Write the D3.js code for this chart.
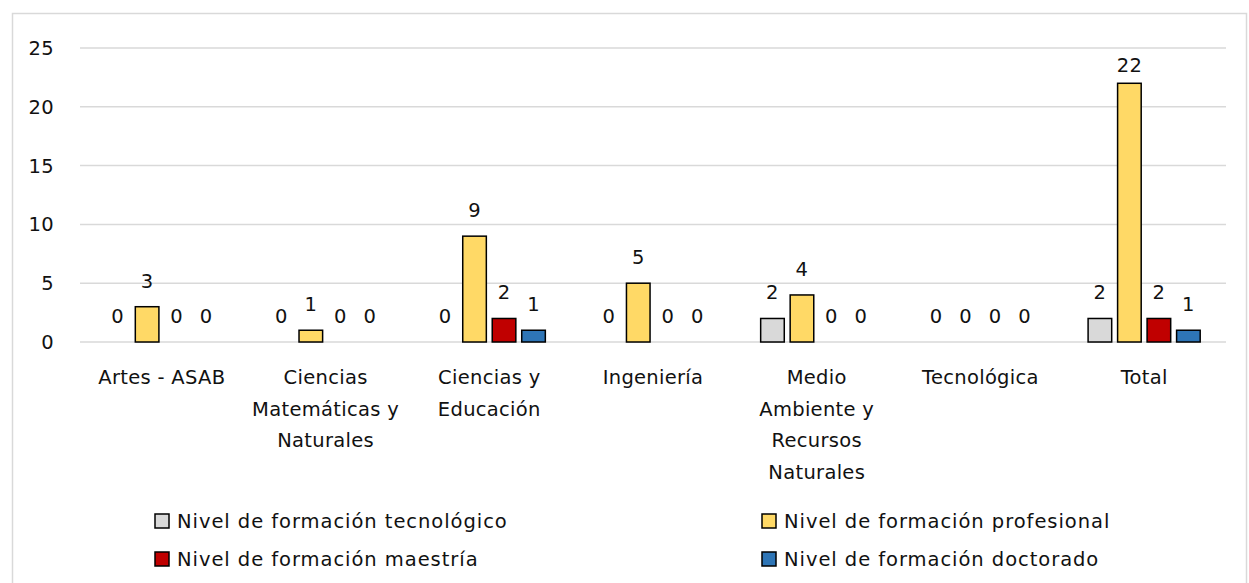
<!DOCTYPE html>
<html>
<head>
<meta charset="utf-8">
<script src="https://cdn.jsdelivr.net/npm/d3@7"></script>
<style>
  body { margin: 0; background: #fff; }
  text { font-family: "DejaVu Sans", sans-serif; fill: #111; letter-spacing: 0.3px; }
  .legend text { letter-spacing: 0.95px; }
</style>
</head>
<body>
<div id="chart"></div>
<script>
// data
const categories = ["Artes - ASAB", "Ciencias Matemáticas y Naturales", "Ciencias y Educación",
  "Ingeniería", "Medio Ambiente y Recursos Naturales", "Tecnológica", "Total"];
const series = ["Nivel de formación tecnológico", "Nivel de formación profesional",
  "Nivel de formación maestría", "Nivel de formación doctorado"];
const tecnologico = [0, 0, 0, 0, 2, 0, 2];
const profesional = [3, 1, 9, 5, 4, 0, 22];
const maestria    = [0, 0, 2, 0, 0, 0, 2];
const doctorado   = [0, 0, 1, 0, 0, 0, 1];
const yTicks = [0, 5, 10, 15, 20, 25];
const colors = ["#d9d9d9", "#ffd966", "#c00000", "#2e75b6"];

const values = [tecnologico, profesional, maestria, doctorado];

const width = 1249, height = 583;
const margin = {left: 80, right: 23, top: 48, bottom: 241};
const fs = 19.5;

const svg = d3.select("#chart").append("svg")
  .attr("width", width)
  .attr("height", height);

// frame
svg.append("rect")
  .attr("x", 12.5).attr("y", 13.5)
  .attr("width", 1234).attr("height", 600)
  .attr("fill", "none")
  .attr("stroke", "#d9d9d9")
  .attr("stroke-width", 1.5);

const x0 = d3.scaleBand()
  .domain(categories)
  .range([margin.left, width - margin.right])
  .padding(0);

const x1 = d3.scaleBand()
  .domain(series)
  .range([0, x0.bandwidth()])
  .paddingInner(0.2)
  .paddingOuter(0.875);

const y = d3.scaleLinear()
  .domain([0, 25])
  .range([height - margin.bottom, margin.top]);

// grid
svg.append("g")
  .selectAll("line")
  .data(yTicks)
  .join("line")
  .attr("x1", margin.left)
  .attr("x2", width - margin.right)
  .attr("y1", d => y(d))
  .attr("y2", d => y(d))
  .attr("stroke", "#d9d9d9")
  .attr("stroke-width", 1.5);

// y labels
svg.append("g")
  .selectAll("text")
  .data(yTicks)
  .join("text")
  .attr("x", 54)
  .attr("y", d => y(d))
  .attr("dy", "0.36em")
  .attr("text-anchor", "end")
  .attr("font-size", fs)
  .text(d => d);

// bars
const groups = svg.append("g")
  .selectAll("g")
  .data(categories)
  .join("g")
  .attr("transform", d => `translate(${x0(d)},0)`);

const cells = groups.selectAll("g")
  .data((c, i) => series.map((s, j) => ({s, j, v: values[j][i]})))
  .join("g");

cells.filter(d => d.v > 0)
  .append("rect")
  .attr("x", d => x1(d.s))
  .attr("y", d => y(d.v))
  .attr("width", x1.bandwidth())
  .attr("height", d => y(0) - y(d.v))
  .attr("fill", d => colors[d.j])
  .attr("stroke", "#000")
  .attr("stroke-width", 1.5);

// value labels, kept inside the plot area like excel does
cells.append("text")
  .attr("x", d => x1(d.s) + x1.bandwidth() / 2)
  .attr("y", d => Math.max(y(d.v) - 19, 72))
  .attr("text-anchor", "middle")
  .attr("font-size", fs)
  .text(d => d.v);

// category labels (wrapped)
function wrap(text, w) {
  text.each(function() {
    const t = d3.select(this);
    const words = t.text().split(/\s+/);
    t.text(null);
    let line = [];
    let tspan = t.append("tspan").attr("x", 0).attr("dy", 0);
    words.forEach(word => {
      line.push(word);
      tspan.text(line.join(" "));
      if (tspan.node().getComputedTextLength() > w && line.length > 1) {
        line.pop();
        tspan.text(line.join(" "));
        line = [word];
        tspan = t.append("tspan").attr("x", 0).attr("dy", 31.5).text(word);
      }
    });
  });
}

svg.append("g")
  .selectAll("text")
  .data(categories)
  .join("text")
  .attr("transform", d => `translate(${x0(d) + x0.bandwidth() / 2},384)`)
  .attr("text-anchor", "middle")
  .attr("font-size", fs)
  .text(d => d)
  .call(wrap, 160);

// legend
const legendPos = [[155, 521], [762, 521], [155, 559], [762, 559]];
const legend = svg.append("g")
  .attr("class", "legend")
  .selectAll("g")
  .data(series)
  .join("g")
  .attr("transform", (d, i) => `translate(${legendPos[i][0]},${legendPos[i][1]})`);

legend.append("rect")
  .attr("x", 0).attr("y", -7)
  .attr("width", 14).attr("height", 14)
  .attr("fill", (d, i) => colors[i])
  .attr("stroke", "#000")
  .attr("stroke-width", 1.5);

legend.append("text")
  .attr("x", 22)
  .attr("dy", "0.36em")
  .attr("font-size", fs)
  .text(d => d);
</script>
</body>
</html>
